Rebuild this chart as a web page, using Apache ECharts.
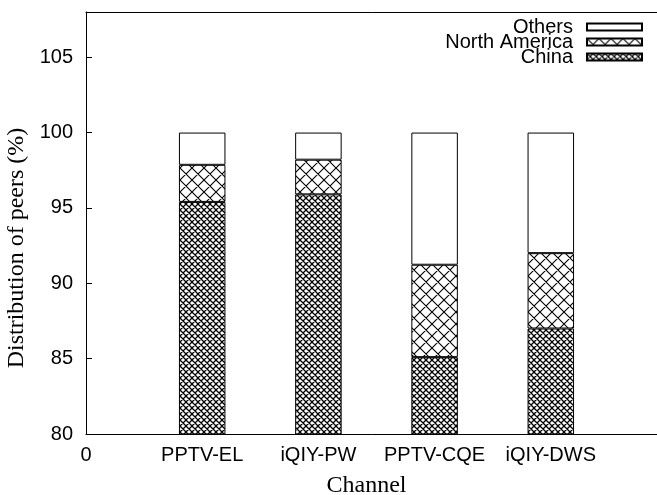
<!DOCTYPE html>
<html>
<head>
<meta charset="utf-8">
<script src="https://cdn.jsdelivr.net/npm/echarts@6/dist/echarts.min.js"></script>
<style>html,body{margin:0;padding:0;background:#fff;}#c{width:657px;height:495px;}</style>
</head>
<body>
<div id="c"></div>
<script>
// ---- data ----
var axisCategories = ['0', 'PPTV-EL', 'iQIY-PW', 'PPTV-CQE', 'iQIY-DWS', ''];
var chinaShare = [null, 95.4, 95.9, 85.1, 87.0, null];
var northAmericaShare = [null, 2.46, 2.3, 6.13, 5.0, null];
var othersShare = [null, 2.14, 1.8, 8.77, 8.0, null];
var yTicks = [80, 85, 90, 95, 100, 105];

function makeHatch(size, lw) {
  var c = document.createElement('canvas');
  c.width = size; c.height = size;
  var g = c.getContext('2d');
  g.fillStyle = '#fff';
  g.fillRect(0, 0, size, size);
  g.strokeStyle = '#000';
  g.lineWidth = lw;
  g.beginPath();
  for (var k = -1; k <= 1; k++) {
    g.moveTo(k * size - 1, -1); g.lineTo(k * size + size + 1, size + 1);
  }
  for (var k2 = 0; k2 <= 2; k2++) {
    g.moveTo(k2 * size + 1, -1); g.lineTo(k2 * size - size - 1, size + 1);
  }
  g.stroke();
  return c;
}
var naPattern = { image: makeHatch(12, 1.1), repeat: 'repeat' };
var chinaPattern = { image: makeHatch(6, 1.3), repeat: 'repeat' };

var chart = echarts.init(document.getElementById('c'), null, { renderer: 'canvas' });
chart.setOption({
  animation: false,
  backgroundColor: '#fff',
  grid: { left: 86, right: -10, top: 12, bottom: 61, outerBoundsMode: 'none', containLabel: false, show: false },
  legend: {
    orient: 'vertical',
    right: 14,
    top: 17,
    padding: 0,
    itemGap: -5,
    align: 'right',
    icon: 'rect',
    itemWidth: 55,
    itemHeight: 7,
    data: ['Others', 'North America', 'China'],
    textStyle: { fontFamily: 'Liberation Sans', fontSize: 20, color: '#000', lineHeight: 15, padding: [0, 9, 0, 0] }
  },
  xAxis: [{
    type: 'category',
    data: axisCategories,
    boundaryGap: false,
    name: 'Channel',
    nameLocation: 'middle',
    nameGap: 40,
    nameTextStyle: { fontFamily: 'Liberation Serif', fontSize: 24, color: '#000', padding: [0, 20, 0, 0] },
    splitLine: { show: false },
    axisLine: { show: true, onZero: false, lineStyle: { color: '#000', width: 1 } },
    axisTick: { show: false },
    axisLabel: { interval: 0, margin: 11, fontFamily: 'Liberation Sans', fontSize: 20, color: '#000' }
  }, {
    type: 'category',
    position: 'top',
    data: axisCategories,
    boundaryGap: false,
    splitLine: { show: false },
    axisLine: { show: true, onZero: false, lineStyle: { color: '#000', width: 1 } },
    axisTick: { show: false },
    axisLabel: { show: false }
  }],
  yAxis: {
    type: 'value',
    min: 80,
    max: 108,
    name: 'Distribution of peers (%)',
    nameLocation: 'middle',
    nameGap: 56,
    nameTextStyle: { fontFamily: 'Liberation Serif', fontSize: 24, color: '#000', padding: [0, 50, 0, 0] },
    splitLine: { show: false },
    axisLine: { show: true, lineStyle: { color: '#000', width: 1 } },
    axisTick: { show: true, inside: true, length: 6, customValues: yTicks, lineStyle: { color: '#000' } },
    axisLabel: { customValues: yTicks, margin: 13, fontFamily: 'Liberation Sans', fontSize: 20, color: '#000' }
  },
  series: [
    {
      name: 'China', type: 'bar', stack: 'all', barWidth: 46.5,
      itemStyle: { color: chinaPattern, borderColor: '#000', borderWidth: 1 },
      data: chinaShare
    },
    {
      name: 'North America', type: 'bar', stack: 'all', barWidth: 46.5,
      itemStyle: { color: naPattern, borderColor: '#000', borderWidth: 1 },
      data: northAmericaShare
    },
    {
      name: 'Others', type: 'bar', stack: 'all', barWidth: 46.5,
      itemStyle: { color: '#fff', borderColor: '#000', borderWidth: 1 },
      data: othersShare
    }
  ]
});
</script>
</body>
</html>
